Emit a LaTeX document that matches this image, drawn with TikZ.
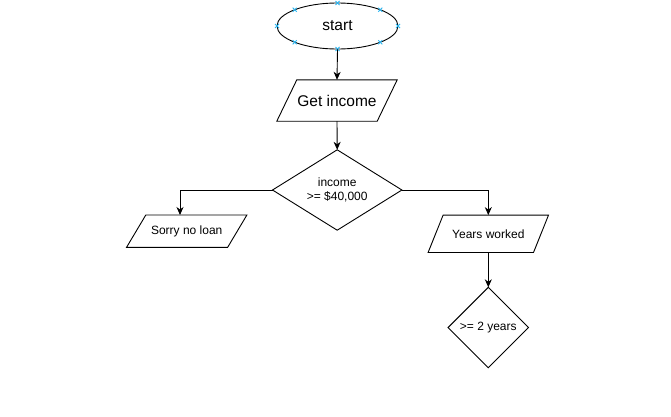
\documentclass[tikz,border=0pt]{standalone}
\usepackage{fontspec}
\setmainfont{Liberation Sans}
\usetikzlibrary{shapes.geometric,arrows.meta,calc}
\definecolor{handle}{RGB}{41,182,242}
\tikzset{
  box/.style={draw=none,inner sep=0pt,font=\fontsize{12}{14}\selectfont,text=black},
  bigtxt/.style={font=\fontsize{15.5}{18}\selectfont},
  shapeline/.style={draw=black,line width=0.9pt},
  arr/.style={draw=black,line width=0.9pt,-{Stealth[length=8pt,width=7pt,inset=2.5pt]}},
  hmark/.style={draw=handle,line width=0.9pt}
}
\begin{document}
\begin{tikzpicture}[x=1pt,y=-1pt]
\useasboundingbox[fill=white] (0,0) rectangle (671,416);
% start ellipse
\node[ellipse,shapeline,minimum width=121pt,minimum height=46pt,inner sep=0pt,bigtxt] (start) at (337.5,26) {start};
\foreach \a in {0,45,...,315}{
  \draw[hmark] ($(start.center)+({60.5*cos(\a)},{-23*sin(\a)})$) ++(-2,-2) -- ++(4,4) ++(-4,0) -- ++(4,-4);
}
% Get income
\node[box,bigtxt,minimum width=120pt,minimum height=41pt] (get) at (337,100.5) {Get income};
\draw[shapeline] ($(get.north west)+(20,0)$) -- (get.north east) -- ($(get.south east)+(-20,0)$) -- (get.south west) -- cycle;
% decision 1
\node[box,align=center,minimum width=129pt,minimum height=80pt] (d1) at (337.2,190) {income\\>= \$40,000};
\draw[shapeline] (d1.north) -- (d1.east) -- (d1.south) -- (d1.west) -- cycle;
% Sorry no loan
\node[box,minimum width=120pt,minimum height=32pt] (sorry) at (186.7,231.2) {Sorry no loan};
\draw[shapeline] ($(sorry.north west)+(19.3,0)$) -- (sorry.north east) -- ($(sorry.south east)+(-19.3,0)$) -- (sorry.south west) -- cycle;
% Years worked
\node[box,minimum width=120pt,minimum height=37pt] (years) at (488.3,233.8) {Years worked};
\draw[shapeline] ($(years.north west)+(15,0)$) -- (years.north east) -- ($(years.south east)+(-15,0)$) -- (years.south west) -- cycle;
% decision 2
\node[box,minimum width=80pt,minimum height=80pt] (d2) at (488.3,327.5) {>= 2 years};
\draw[shapeline] (d2.north) -- (d2.east) -- (d2.south) -- (d2.west) -- cycle;
% connectors
\draw[arr] (start.south) -- (get.north);
\draw[arr] (get.south) -- (d1.north);
\draw[arr] (d1.west) -| ([xshift=-6.7pt]sorry.north);
\draw[arr] (d1.east) -| (years.north);
\draw[arr] (years.south) -- (d2.north);
\end{tikzpicture}
\end{document}
